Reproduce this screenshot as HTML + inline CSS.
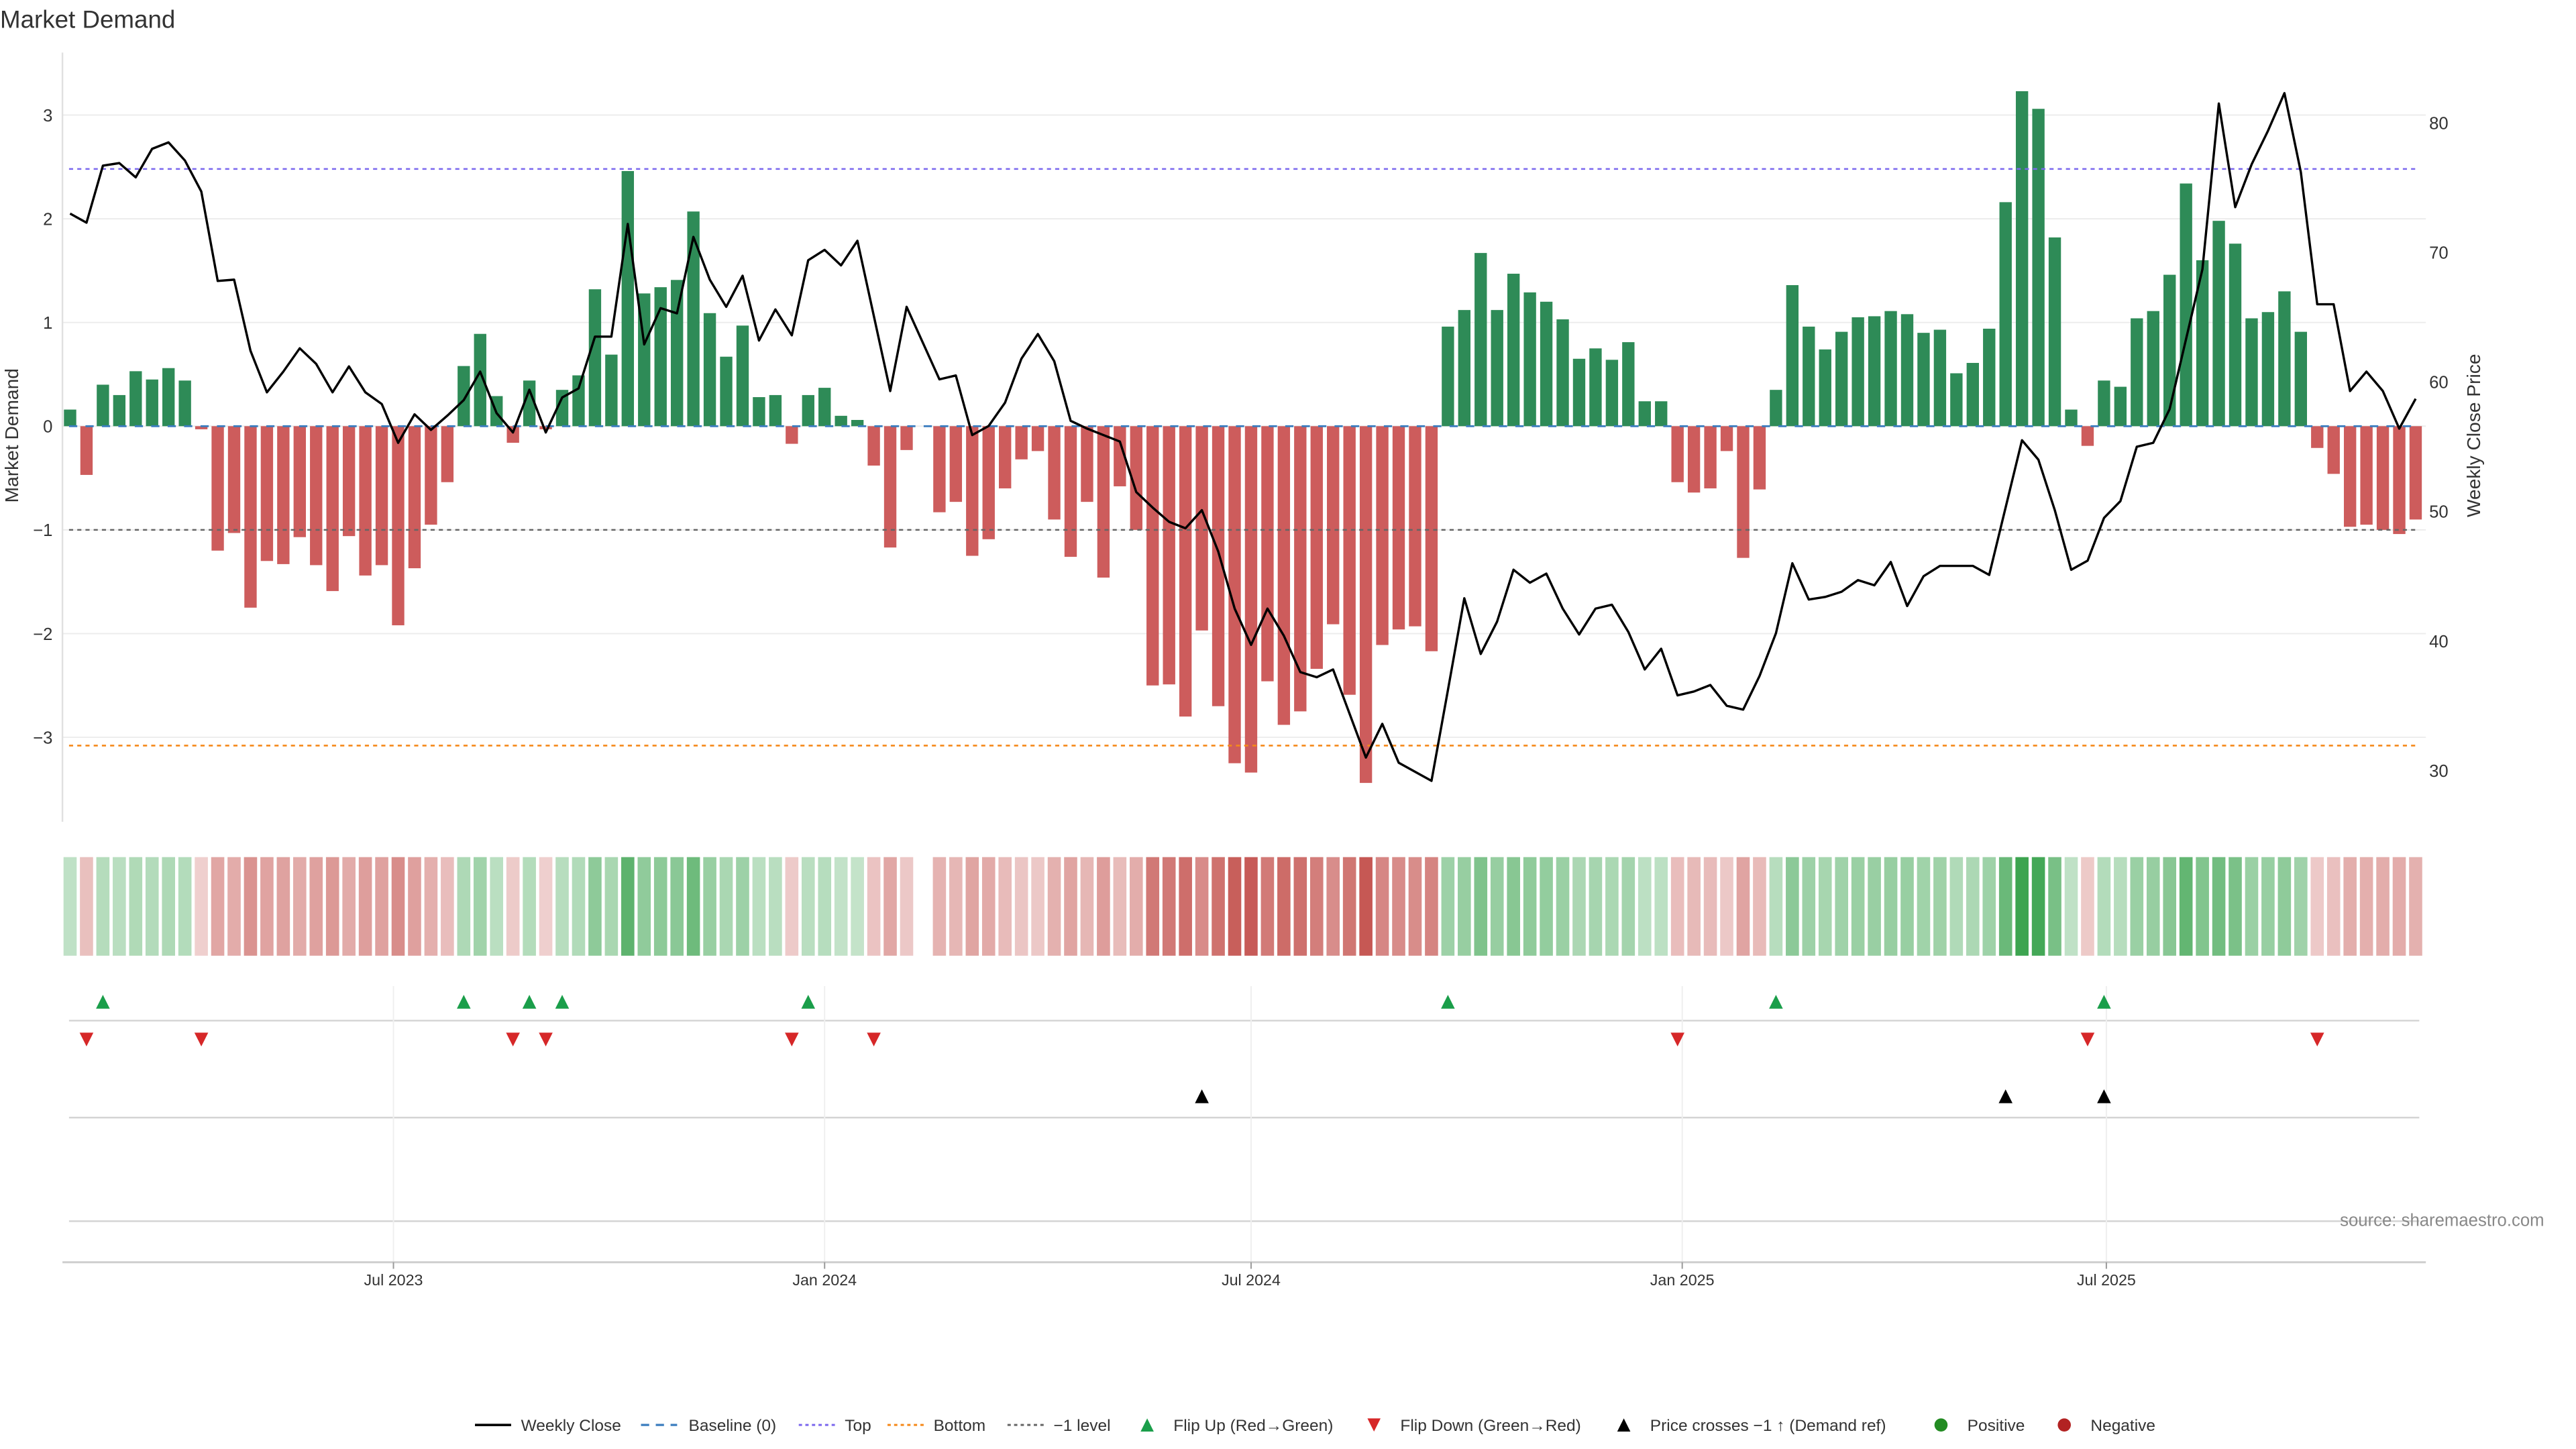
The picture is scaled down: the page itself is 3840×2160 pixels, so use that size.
<!DOCTYPE html>
<html><head><meta charset="utf-8"><style>
html,body{margin:0;padding:0;background:#fff;}
svg{display:block;font-family:"Liberation Sans","DejaVu Sans",sans-serif;}
</style></head><body>
<svg id="chart" xmlns="http://www.w3.org/2000/svg" width="3840" height="2160" viewBox="0 0 1567.35 881.63">
<text x="0" y="17" font-size="15" fill="#333">Market Demand</text>
<g id="grid"></g>
<g id="bars"></g>
<g id="refs"></g>
<g id="line"></g>
<g id="heat"></g>
<g id="events"></g>
<g id="axes"></g>
<text x="1548" y="746" font-size="10.5" fill="#888" text-anchor="end">source: sharemaestro.com</text>
<g id="legend"></g>
</svg>
<script>
const demand = [0.16,-0.47,0.40,0.30,0.53,0.45,0.56,0.44,-0.03,-1.20,-1.03,-1.75,-1.30,-1.33,-1.07,-1.34,-1.59,-1.06,-1.44,-1.34,-1.92,-1.37,-0.95,-0.54,0.58,0.89,0.29,-0.16,0.44,-0.03,0.35,0.49,1.32,0.69,2.46,1.28,1.34,1.41,2.07,1.09,0.67,0.97,0.28,0.30,-0.17,0.30,0.37,0.10,0.06,-0.38,-1.17,-0.23,0,-0.83,-0.73,-1.25,-1.09,-0.60,-0.32,-0.24,-0.90,-1.26,-0.73,-1.46,-0.58,-1.00,-2.50,-2.49,-2.80,-1.97,-2.70,-3.25,-3.34,-2.46,-2.88,-2.75,-2.34,-1.91,-2.59,-3.44,-2.11,-1.96,-1.93,-2.17,0.96,1.12,1.67,1.12,1.47,1.29,1.20,1.03,0.65,0.75,0.64,0.81,0.24,0.24,-0.54,-0.64,-0.60,-0.24,-1.27,-0.61,0.35,1.36,0.96,0.74,0.91,1.05,1.06,1.11,1.08,0.90,0.93,0.51,0.61,0.94,2.16,3.23,3.06,1.82,0.16,-0.19,0.44,0.38,1.04,1.11,1.46,2.34,1.60,1.98,1.76,1.04,1.10,1.30,0.91,-0.21,-0.46,-0.97,-0.95,-1.00,-1.04,-0.90];
const closePrice = [73.0,72.3,76.7,76.9,75.8,78.0,78.5,77.1,74.7,67.8,67.9,62.4,59.2,60.8,62.6,61.4,59.2,61.2,59.2,58.3,55.3,57.5,56.3,57.4,58.6,60.8,57.6,56.1,59.4,56.1,58.8,59.5,63.5,63.5,72.2,62.9,65.7,65.3,71.2,67.9,65.8,68.2,63.2,65.6,63.6,69.4,70.2,69.0,70.9,65.1,59.3,65.8,63.0,60.2,60.5,55.9,56.6,58.4,61.8,63.7,61.6,57.0,56.4,55.9,55.4,51.5,50.3,49.2,48.7,50.1,46.9,42.5,39.7,42.5,40.4,37.6,37.2,37.8,34.4,31.0,33.6,30.6,29.9,29.2,36.2,43.3,39.0,41.5,45.5,44.5,45.2,42.5,40.5,42.5,42.8,40.7,37.8,39.4,35.8,36.1,36.6,35.0,34.7,37.3,40.6,46.0,43.2,43.4,43.8,44.7,44.3,46.1,42.7,45.0,45.8,45.8,45.8,45.1,50.3,55.5,54.0,50.1,45.5,46.2,49.5,50.8,55.0,55.3,57.9,63.3,68.7,81.5,73.5,76.8,79.4,82.3,76.2,66.0,66.0,59.3,60.8,59.3,56.4,58.7];
const priceCrossIdx = [69,118,124];
const topLevel = 2.48, bottomLevel = -3.08, minusOneLevel = -1;
const leftTicks = [-3,-2,-1,0,1,2,3];
const rightTicks = [30,40,50,60,70,80];
const xTickLabels = ["Jul 2023","Jan 2024","Jul 2024","Jan 2025","Jul 2025"];
const xTickDates = ["2023-07-01","2024-01-01","2024-07-01","2025-01-01","2025-07-01"];
const startDate = "2023-02-13";

const NS="http://www.w3.org/2000/svg";
const X0=42.65, STEP=9.98, BW=7.5, PL=38, PR=1476;
const Y0=259.3, YU=63.1;
const xi=i=>X0+i*STEP;
const yd=v=>Y0-v*YU;
const yp=p=>74.8+(80-p)*7.88;
const xDate=d=>X0+((new Date(d)-new Date(startDate))/86400000/7)*STEP;
function el(tag,attrs,parent){const e=document.createElementNS(NS,tag);for(const k in attrs)e.setAttribute(k,attrs[k]);parent.appendChild(e);return e;}
const G=id=>document.getElementById(id);

leftTicks.forEach(t=>{
  const l=el('line',{x1:PL,x2:PR,y1:yd(t),y2:yd(t),stroke:'#ececec','stroke-width':0.8},G('grid'));
  
  
});
demand.forEach((v,i)=>{
  if(v===0)return;
  const r=el('rect',{x:xi(i)-BW/2,y:Math.min(yd(v),Y0),width:BW,height:Math.abs(v)*YU,fill:v>0?'#2e8b57':'#cd5c5c'},G('bars'));
  
  
});
[[0,'#3b7dbf','5,5',1.2,'baseline-line'],[topLevel,'#7b68ee','2.5,2.5',1,'top-line'],[bottomLevel,'#f5891a','2.5,2.5',1.1,'bottom-line'],[minusOneLevel,'#666','2.5,2.5',1,'minus-one-line']].forEach(a=>{
  const l=el('line',{x1:42,x2:1472,y1:yd(a[0]),y2:yd(a[0]),stroke:a[1],'stroke-dasharray':a[2],'stroke-width':a[3]},G('refs'));
  
  
});
const pl=el('polyline',{points:closePrice.map((p,i)=>xi(i).toFixed(2)+','+yp(p).toFixed(2)).join(' '),fill:'none',stroke:'#000','stroke-width':1.4,'stroke-linejoin':'round'},G('line'));


const maxAbs=3.44;
function mix(c,t){return 'rgb('+c.map(v=>Math.round(255+(v-255)*t)).join(',')+')';}
demand.forEach((v,i)=>{
  if(v===0)return;
  const t=0.28+0.72*Math.min(1,Math.abs(v)/maxAbs);
  const c=v>0?mix([52,160,72],t):mix([198,88,84],t);
  const r=el('rect',{x:xi(i)-4,y:521.5,width:8,height:60,fill:c},G('heat'));
  
  
});
[621,680,743].forEach(y=>{
  const l=el('line',{x1:42,x2:1472,y1:y,y2:y,stroke:'#d4d4d4','stroke-width':1},G('events'));
  
  
});
xTickDates.forEach(d=>{
  const l=el('line',{x1:xDate(d),x2:xDate(d),y1:600,y2:768,stroke:'#efefef','stroke-width':0.8},G('events'));
  
  
});
function tri(x,y,up,color,name){
  const s=4.2;
  const pts=up?`${x-s},${y+s} ${x+s},${y+s} ${x},${y-s}`:`${x-s},${y-s} ${x+s},${y-s} ${x},${y+s}`;
  const p=el('polygon',{points:pts,fill:color},G('events'));
  
  
}
let prev=0;
demand.forEach((v,i)=>{
  const s=Math.sign(v);
  if(s===0)return;
  if(prev!==0&&s!==prev){ if(s>0)tri(xi(i),609.5,true,'#1a9e4a','flip-up-marker'); else tri(xi(i),632.5,false,'#d62728','flip-down-marker'); }
  prev=s;
});
priceCrossIdx.forEach(i=>tri(xi(i),667,true,'#000','price-cross-marker'));
const ax=G('axes');
let a=el('line',{x1:PL,x2:PL,y1:32,y2:500,stroke:'#e0e0e0','stroke-width':1},ax);


a=el('line',{x1:PL,x2:PR,y1:768,y2:768,stroke:'#cfcfcf','stroke-width':1.2},ax);


leftTicks.forEach(t=>{
  const tx=el('text',{x:32,y:yd(t)+3.8,'font-size':10.5,fill:'#333','text-anchor':'end'},ax);
  tx.textContent=t<0?'\u2212'+Math.abs(t):String(t);
  
  
});
rightTicks.forEach(t=>{
  const tx=el('text',{x:1478,y:yp(t)+3.8,'font-size':10.5,fill:'#333'},ax);
  tx.textContent=String(t);
  
  
});
xTickLabels.forEach((lab,k)=>{
  const x=xDate(xTickDates[k]);
  const tk=el('line',{x1:x,x2:x,y1:768,y2:772,stroke:'#999','stroke-width':0.8},ax);
  
  
  const tx=el('text',{x:x,y:782,'font-size':9.5,fill:'#333','text-anchor':'middle'},ax);
  tx.textContent=lab;
  
  
});
let yt=el('text',{x:0,y:0,'font-size':11.5,fill:'#333','text-anchor':'middle',transform:'translate(11,265) rotate(-90)'},ax);
yt.textContent='Market Demand';


yt=el('text',{x:0,y:0,'font-size':11.5,fill:'#333','text-anchor':'middle',transform:'translate(1509,265) rotate(-90)'},ax);
yt.textContent='Weekly Close Price';


const lg=G('legend'), LY=867;
function ltext(x,s){const t=el('text',{x:x,y:LY+3.6,'font-size':10,fill:'#333'},lg);t.textContent=s;}
function lline(x,c,dash,w){const l=el('line',{x1:x,x2:x+22,y1:LY,y2:LY,stroke:c,'stroke-width':w,'stroke-dasharray':dash},lg);}
lline(289,'#000','none',1.5);ltext(317,'Weekly Close');
lline(390,'#3b7dbf','5,4',1.3);ltext(419,'Baseline (0)');
lline(486,'#7b68ee','2,2',1.2);ltext(514,'Top');
lline(540,'#f5891a','2,2',1.2);ltext(568,'Bottom');
lline(613,'#666','2,2',1.2);ltext(641,'\u22121 level');
function ltri(x,up,c){const s=4;const p=el('polygon',{points:up?`${x-s},${LY+s} ${x+s},${LY+s} ${x},${LY-s}`:`${x-s},${LY-s} ${x+s},${LY-s} ${x},${LY+s}`,fill:c},lg);}
ltri(698,true,'#1a9e4a');ltext(714,'Flip Up (Red\u2192Green)');
ltri(836,false,'#d62728');ltext(852,'Flip Down (Green\u2192Red)');
ltri(988,true,'#000');ltext(1004,'Price crosses \u22121 \u2191 (Demand ref)');
let c=el('circle',{cx:1181,cy:LY,r:4,fill:'#228b22'},lg);ltext(1197,'Positive');
c=el('circle',{cx:1256,cy:LY,r:4,fill:'#b22222'},lg);ltext(1272,'Negative');
</script>
</body></html>
